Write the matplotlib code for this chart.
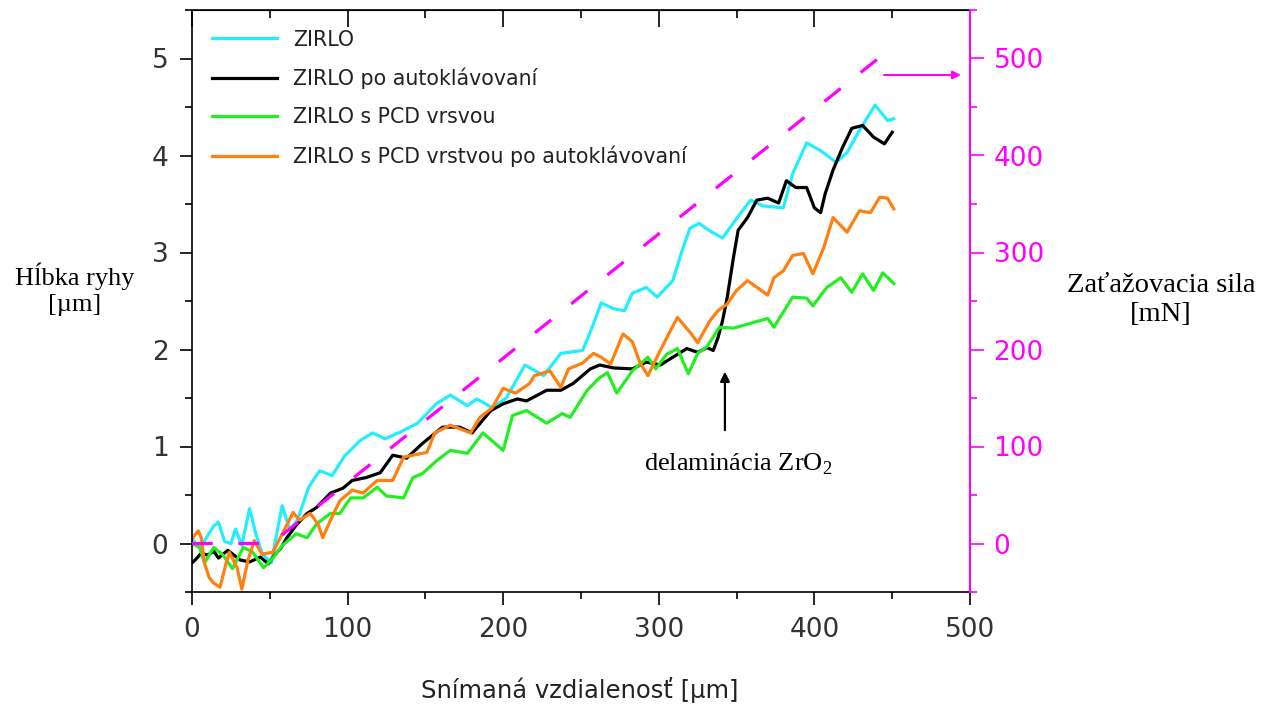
import matplotlib.pyplot as plt
from matplotlib.ticker import MultipleLocator

plt.rcParams['mathtext.fontset'] = 'custom'
plt.rcParams['mathtext.rm'] = 'Liberation Serif'

# ZIRLO
cyan_x = [0, 5, 10, 14, 17, 21, 25, 28, 32, 37, 41, 45, 51, 55, 58, 63, 68, 75, 82, 90,
          98, 108, 116, 124, 134, 145, 157, 166, 177, 183, 193, 202, 214, 226, 237, 251, 256, 263, 271, 278,
          283, 292, 299, 309, 315, 320, 326, 333, 341, 350, 359, 367, 380, 386, 395, 404, 414, 421, 429, 439,
          447, 451]
cyan_y = [0.05, -0.05, 0.08, 0.18, 0.22, 0.02, 0.0, 0.15, -0.02, 0.36, 0.1, -0.1, -0.2, 0.15, 0.39, 0.13, 0.25, 0.58, 0.75, 0.7,
          0.9, 1.06, 1.14, 1.08, 1.15, 1.24, 1.44, 1.53, 1.42, 1.49, 1.40, 1.50, 1.84, 1.73, 1.96, 1.99, 2.18, 2.48, 2.42, 2.40,
          2.58, 2.64, 2.54, 2.71, 3.02, 3.25, 3.30, 3.22, 3.15, 3.35, 3.54, 3.48, 3.46, 3.81, 4.13, 4.05, 3.93, 4.03, 4.26, 4.52,
          4.36, 4.38]

# ZIRLO po autoklavovani
black_x = [0, 2, 6, 10, 14, 17, 23, 27, 31, 37, 44, 49, 53, 57, 61, 67, 74, 80, 89, 97,
           103, 112, 121, 129, 138, 148, 161, 172, 180, 192, 200, 209, 215, 228, 237, 245, 256, 262, 271, 283,
           292, 301, 309, 318, 325, 331, 335, 338, 341, 344, 348, 351, 357, 363, 370, 377, 382, 388, 395, 400,
           404, 407, 412, 418, 424, 431, 438, 445, 450]
black_y = [-0.2, -0.17, -0.1, -0.12, -0.08, -0.15, -0.07, -0.12, -0.17, -0.19, -0.14, -0.21, -0.12, -0.05, 0.06, 0.19, 0.31, 0.37, 0.52, 0.57,
           0.65, 0.68, 0.73, 0.91, 0.88, 1.03, 1.2, 1.2, 1.14, 1.37, 1.44, 1.49, 1.47, 1.58, 1.58, 1.65, 1.80, 1.84, 1.81, 1.80,
           1.87, 1.84, 1.92, 2.01, 1.97, 2.02, 1.99, 2.12, 2.3, 2.54, 2.95, 3.23, 3.36, 3.54, 3.56, 3.51, 3.74, 3.67, 3.67, 3.46,
           3.41, 3.61, 3.85, 4.08, 4.28, 4.31, 4.19, 4.12, 4.24]

# ZIRLO s PCD vrstvou
green_x = [0, 5, 8, 14, 20, 26, 33, 39, 46, 52, 58, 67, 74, 80, 89, 95, 102, 110, 119, 125,
           136, 142, 148, 157, 166, 177, 187, 200, 206, 215, 228, 238, 243, 254, 262, 267, 273, 283, 293, 298,
           305, 312, 319, 325, 331, 339, 348, 359, 370, 374, 386, 395, 399, 408, 417, 424, 431, 438, 444, 451]
green_y = [0.0, -0.04, -0.2, -0.04, -0.12, -0.26, -0.04, -0.09, -0.25, -0.15, -0.02, 0.1, 0.06, 0.2, 0.31, 0.31, 0.47, 0.47, 0.58, 0.49,
           0.47, 0.68, 0.72, 0.85, 0.96, 0.93, 1.14, 0.96, 1.32, 1.37, 1.24, 1.34, 1.30, 1.58, 1.71, 1.76, 1.55, 1.78, 1.92, 1.80,
           1.95, 2.01, 1.75, 1.96, 2.03, 2.23, 2.22, 2.27, 2.32, 2.23, 2.54, 2.53, 2.45, 2.64, 2.74, 2.59, 2.78, 2.61, 2.79, 2.68]

# ZIRLO s PCD vrstvou po autoklavovani
orange_x = [0, 4, 6, 8, 11, 14, 18, 22, 24, 29, 32, 36, 40, 45, 52, 58, 65, 69, 76, 81,
            84, 89, 95, 103, 110, 119, 129, 136, 142, 151, 156, 166, 179, 185, 193, 200, 208, 217, 220, 230,
            237, 242, 251, 258, 263, 269, 277, 283, 288, 293, 300, 307, 312, 321, 325, 333, 338, 344, 350, 357,
            364, 370, 374, 380, 386, 393, 399, 406, 412, 421, 429, 436, 442, 447, 451]
orange_y = [0.05, 0.13, 0.06, -0.2, -0.35, -0.41, -0.45, -0.2, -0.09, -0.25, -0.47, -0.17, 0.03, -0.11, -0.09, 0.1, 0.32, 0.24, 0.31, 0.2,
            0.06, 0.24, 0.44, 0.55, 0.52, 0.65, 0.65, 0.89, 0.91, 0.94, 1.14, 1.22, 1.14, 1.30, 1.40, 1.60, 1.55, 1.65, 1.73, 1.78,
            1.61, 1.80, 1.86, 1.96, 1.92, 1.85, 2.16, 2.08, 1.86, 1.73, 1.96, 2.18, 2.33, 2.16, 2.07, 2.30, 2.40, 2.47, 2.61, 2.71,
            2.63, 2.56, 2.74, 2.81, 2.97, 2.99, 2.78, 3.05, 3.36, 3.21, 3.43, 3.41, 3.57, 3.56, 3.45]

# zatazovacia sila (mN)
load_x = [0, 51, 441]
load_f = [0, 0, 500]

labels = ['ZIRLO', 'ZIRLO po autoklávovaní', 'ZIRLO s PCD vrsvou',
          'ZIRLO s PCD vrstvou po autoklávovaní']
colors = ['#22eeff', 'black', '#22ee22', '#ff8010']
MAG = '#ff00ff'

fig = plt.figure(figsize=(12.64, 7.04), dpi=100)
ax = fig.add_axes([192 / 1264, 1 - 592 / 704, 778 / 1264, 582 / 704])
ax2 = ax.twinx()

series = [(cyan_x, cyan_y), (black_x, black_y), (green_x, green_y), (orange_x, orange_y)]
for (xs, ys), c, lab in zip(series, colors, labels):
    ax.plot(xs, ys, color=c, lw=2.3, label=lab)

ax2.plot(load_x, load_f, color=MAG, lw=2.3, dashes=(6.5, 8))

ax.set_xlim(0, 500)
ax.set_ylim(-0.5, 5.5)
ax2.set_ylim(-50, 550)

ax.xaxis.set_major_locator(MultipleLocator(100))
ax.xaxis.set_minor_locator(MultipleLocator(50))
ax.yaxis.set_major_locator(MultipleLocator(1))
ax.yaxis.set_minor_locator(MultipleLocator(0.5))
ax2.yaxis.set_major_locator(MultipleLocator(100))
ax2.yaxis.set_minor_locator(MultipleLocator(50))

ax.tick_params(axis='x', which='major', direction='out', length=9, width=1.2, pad=9, labelsize=19,
               top=False, labelcolor='#333333')
ax.tick_params(axis='x', which='minor', direction='out', length=5, width=1.2, top=False)
ax.tick_params(axis='y', which='major', direction='out', length=9, width=1.2, pad=8, labelsize=19,
               labelcolor='#333333')
ax.tick_params(axis='y', which='minor', direction='out', length=5, width=1.2)
ax2.tick_params(axis='y', which='major', direction='out', length=10, width=1.2, pad=7, labelsize=19,
                colors=MAG)
ax2.tick_params(axis='y', which='minor', direction='out', length=5, width=1.2, colors=MAG)

top = ax.secondary_xaxis('top')
top.xaxis.set_major_locator(MultipleLocator(100))
top.xaxis.set_minor_locator(MultipleLocator(50))
top.tick_params(which='major', direction='in', length=12, width=1.2, labeltop=False)
top.tick_params(which='minor', direction='in', length=6, width=1.2)

for sp in ax.spines.values():
    sp.set_linewidth(1.2)
ax.spines['right'].set_visible(False)
for s in ['left', 'top', 'bottom']:
    ax2.spines[s].set_visible(False)
ax2.spines['right'].set_color(MAG)
ax2.spines['right'].set_linewidth(1.5)

leg = ax.legend(loc='upper left', bbox_to_anchor=(0.0, 1.0), frameon=False, fontsize=14.8,
                handlelength=3.2, handletextpad=0.75, labelspacing=0.88, borderaxespad=0.55)
for t in leg.get_texts():
    t.set_color('#222222')

fig.text(580 / 1264, 1 - 690 / 704, 'Snímaná vzdialenosť [µm]', ha='center', va='center',
         fontsize=17.5, family='DejaVu Sans', color='#222222')
fig.text(75 / 1264, 1 - 289 / 704, 'Hĺbka ryhy\n[µm]', ha='center', va='center',
         fontsize=19, family='Liberation Serif', linespacing=1.25)
fig.text(1161 / 1264, 1 - 300 / 704, 'Zaťažovacia sila\n[mN]', ha='center', va='center',
         fontsize=20.5, family='Liberation Serif', linespacing=1.2)

# delaminacia
ax.annotate('', xy=(342.5, 1.80), xytext=(342.5, 1.14),
            arrowprops=dict(arrowstyle='-|>', color='black', lw=1.6, mutation_scale=14))
ax.text(351, 0.82, 'delaminácia ZrO$_2$', ha='center', va='center', fontsize=19,
        family='Liberation Serif')

# sipka k pravej osi
ax2.annotate('', xy=(496, 483), xytext=(443, 483),
             arrowprops=dict(arrowstyle='-|>', color=MAG, lw=1.5, mutation_scale=12))

fig.savefig('out.png', dpi=100)
